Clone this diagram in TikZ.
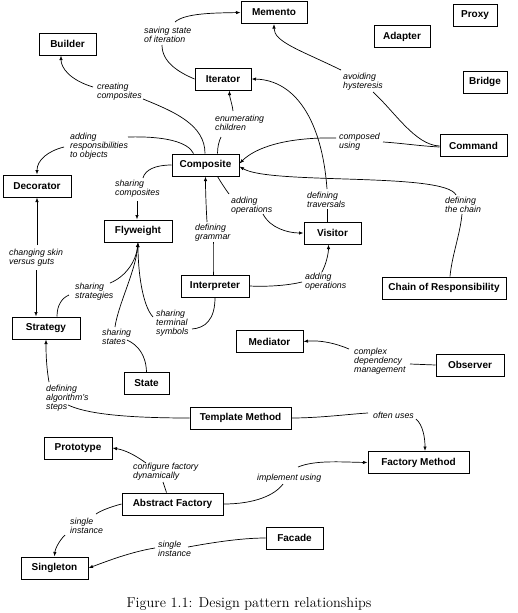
\documentclass[tikz,border=0pt]{standalone}
\usepackage{fontspec}
\setsansfont{Liberation Sans}
\usetikzlibrary{arrows.meta}
\begin{document}
\begin{tikzpicture}[x=1pt,y=-1pt,
  pat/.style={draw, line width=1pt, minimum height=22pt, inner sep=0pt, font=\sffamily\bfseries\fontsize{10}{12}\selectfont},
  lbl/.style={anchor=north west, inner sep=0pt, align=left, font=\sffamily\itshape\fontsize{8.8}{9}\selectfont},
  con/.style={line width=0.7pt},
  arr/.style={con, -{Latex[length=4.5pt,width=3.4pt]}}]
\useasboundingbox (0,0) rectangle (517,613);

% pattern boxes
\node[pat, minimum width=66pt] (Memento) at (274,12.5) {Memento};
\node[pat, minimum width=44pt] (Proxy) at (475,15.5) {Proxy};
\node[pat, minimum width=56pt] (Adapter) at (402,36.5) {Adapter};
\node[pat, minimum width=44pt] (Bridge) at (485,82) {Bridge};
\node[pat, minimum width=67pt] (Command) at (473.5,145.5) {Command};
\node[pat, minimum width=57pt] (Builder) at (67.5,44) {Builder};
\node[pat, minimum width=56pt] (Iterator) at (223,79) {Iterator};
\node[pat, minimum width=67pt] (Composite) at (205.5,165) {Composite};
\node[pat, minimum width=68pt] (Decorator) at (37,186) {Decorator};
\node[pat, minimum width=68pt] (Flyweight) at (138,231) {Flyweight};
\node[pat, minimum width=57pt] (Visitor) at (332.5,233) {Visitor};
\node[pat, minimum width=68pt] (Interpreter) at (215,286) {Interpreter};
\node[pat, minimum width=124pt] (CoR) at (444,288) {Chain of Responsibility};
\node[pat, minimum width=68pt] (Strategy) at (46,328) {Strategy};
\node[pat, minimum width=67pt] (Mediator) at (269.5,341.5) {Mediator};
\node[pat, minimum width=68pt] (Observer) at (470,365) {Observer};
\node[pat, minimum width=45pt] (State) at (146.5,383.5) {State};
\node[pat, minimum width=101pt] (TM) at (240.5,418) {Template Method};
\node[pat, minimum width=68pt] (Prototype) at (78,448) {Prototype};
\node[pat, minimum width=101pt] (FM) at (418.5,462.5) {Factory Method};
\node[pat, minimum width=101pt] (AF) at (172.5,504) {Abstract Factory};
\node[pat, minimum width=57pt] (Facade) at (294.5,538) {Facade};
\node[pat, minimum width=67pt] (Singleton) at (54.5,568) {Singleton};

% labels
\node[lbl] (satl) at (144,26.7) {saving state\\of iteration};
\node[lbl] (creat) at (97,83) {creating\\composites};
\node[lbl] (enum) at (215,115) {enumerating\\children};
\node[lbl] (addresp) at (70,133) {adding\\responsibilities\\to objects};
\node[lbl] (avoid) at (343,73) {avoiding\\hysteresis};
\node[lbl] (compused) at (339,133) {composed\\using};
\node[lbl] (sharcomp) at (115,180) {sharing\\composites};
\node[lbl] (addopa) at (231,197) {adding\\operations};
\node[lbl] (deftrav) at (307,192) {defining\\traversals};
\node[lbl] (defchain) at (445,197) {defining\\the chain};
\node[lbl] (skin) at (9,249) {changing skin\\versus guts};
\node[lbl] (defgram) at (195,224) {defining\\grammar};
\node[lbl] (addopb) at (305,273) {adding\\operations};
\node[lbl] (sharstrat) at (75,283) {sharing\\strategies};
\node[lbl] (sharterm) at (156,310) {sharing\\terminal\\symbols};
\node[lbl] (sharstate) at (102,329) {sharing\\states};
\node[lbl] (complex) at (354,348) {complex\\dependency\\management};
\node[lbl] (defalg) at (46,385) {defining\\algorithm's\\steps};
\node[lbl] (often) at (373,412) {often uses};
\node[lbl] (config) at (133,463) {configure factory\\dynamically};
\node[lbl] (impl) at (257,474) {implement using};
\node[lbl] (singa) at (70,518) {single\\instance};
\node[lbl] (singb) at (158,541) {single\\instance};

% label-side ends of connectors
\coordinate (cA1) at (162,45);   \coordinate (cA2) at (175,22);
\coordinate (cB1) at (143,99);   \coordinate (cB2) at (93,87);
\coordinate (cC1) at (221,137);  \coordinate (cC2) at (233,111);
\coordinate (cD1) at (128,137);  \coordinate (cD2) at (64,147);
\coordinate (cE1) at (373,92);   \coordinate (cE2) at (341,70);
\coordinate (cF1) at (383,142);  \coordinate (cF2) at (336,138);
\coordinate (cG1) at (462,214);  \coordinate (cG2) at (456,195);
\coordinate (cH1) at (327,209);  \coordinate (cH2) at (327,189);
\coordinate (cI1) at (229,194);  \coordinate (cI2) at (263,214);
\coordinate (cJ1) at (213,242);  \coordinate (cJ2) at (207,222);
\coordinate (cK1) at (302,282);  \coordinate (cK2) at (322,272);
\coordinate (cL1) at (37,245);   \coordinate (cL2) at (36,270);
\coordinate (cM1) at (69,295);   \coordinate (cM2) at (110,283);
\coordinate (cN1) at (127,340);  \coordinate (cN2) at (115,327);
\coordinate (cO1) at (192,329);  \coordinate (cO2) at (153,317);
\coordinate (cP1) at (410,364);  \coordinate (cP2) at (349,349);
\coordinate (cQ1) at (68,405);   \coordinate (cQ2) at (49,382);
\coordinate (cR1) at (368,413);  \coordinate (cR2) at (416,419);
\coordinate (cS1) at (163,482);  \coordinate (cS2) at (146,463);
\coordinate (cT1) at (283,484);  \coordinate (cT2) at (298,467);
\coordinate (cU1) at (96,514);   \coordinate (cU2) at (65,535);
\coordinate (cV1) at (188,547);  \coordinate (cV2) at (155,548);
\coordinate (cW1) at (143,178);  \coordinate (cW2) at (137,201);

% A Iterator -> Memento
\draw[con] (Iterator.west) .. controls (178,72) and (162,62) .. (cA1);
\draw[arr] (cA2) .. controls (185,13) and (215,13) .. (Memento.west);
% B Composite -> Builder
\draw[con] ([xshift=-0.5pt]Composite.north) .. controls (205,125) and (175,112) .. (cB1);
\draw[arr] (cB2) .. controls (70,80) and (61,68) .. ([xshift=-6.5pt]Builder.south);
% C Composite -> Iterator
\draw[con] ([xshift=12pt]Composite.north) .. controls (217.5,147) and (219,141) .. (cC1);
\draw[arr] (cC2) .. controls (232,103) and (229.5,97) .. ([xshift=6.5pt]Iterator.south);
% D Composite -> Decorator
\draw[con] ([xshift=-12pt]Composite.north) .. controls (188,142) and (165,136) .. (cD1);
\draw[arr] (cD2) .. controls (48,151) and (37,160) .. (Decorator.north);
% E Command -> Memento
\draw[con] (cE1) .. controls (395,112) and (415,145) .. ([yshift=-0.5pt]Command.west);
\draw[arr] (cE2) .. controls (300,50) and (274,42) .. (Memento.south);
% F Command -> Composite
\draw[con] (cF1) .. controls (400,143) and (420,146) .. ([yshift=-1.5pt]Command.west);
\draw[arr] (cF2) .. controls (285,137) and (255,148) .. ([yshift=1.5pt]Composite.east);
% G Chain of Responsibility -> Composite
\draw[con] ([xshift=6pt]CoR.north) .. controls (452,255) and (460,235) .. (cG1);
\draw[arr] (cG2) .. controls (445,172) and (270,185) .. ([yshift=-1.5pt]Composite.east);
% H Visitor -> Iterator
\draw[con] ([xshift=-5.5pt]Visitor.north) -- (cH1);
\draw[arr] (cH2) .. controls (322,120) and (295,80) .. (Iterator.east);
% I Composite -> Visitor
\draw[con] ([xshift=12pt]Composite.south) .. controls (222,184) and (226,190) .. (cI1);
\draw[arr] (cI2) .. controls (270,228) and (288,233) .. (Visitor.west);
% J Interpreter -> Composite
\draw[con] ([xshift=-2pt]Interpreter.north) .. controls (213,260) and (213,250) .. (cJ1);
\draw[arr] (cJ2) .. controls (206,205) and (205.5,190) .. (Composite.south);
% K Interpreter -> Visitor
\draw[con] (Interpreter.east) .. controls (270,287) and (290,285) .. (cK1);
\draw[arr] (cK2) .. controls (327,262) and (328.5,252) .. ([xshift=-4pt]Visitor.south);
% L Decorator <-> Strategy
\draw[arr] (cL1) -- (Decorator.south);
\draw[arr] (cL2) -- ([xshift=-10pt]Strategy.north);
% W Composite -> Flyweight
\draw[con] (Composite.west) .. controls (155,165) and (145,170) .. (cW1);
\draw[arr] (cW2) -- ([xshift=-1pt]Flyweight.north);
% M Strategy -> Flyweight
\draw[con] ([xshift=11pt]Strategy.north) .. controls (57,305) and (62,298) .. (cM1);
\draw[arr] (cM2) .. controls (125,277) and (136,262) .. (Flyweight.south);
% N State -> Flyweight
\draw[con] (State.north) .. controls (146,355) and (138,345) .. (cN1);
\draw[arr] (cN2) .. controls (118,305) and (136,270) .. (Flyweight.south);
% O Interpreter -> Flyweight
\draw[con] (Interpreter.south) .. controls (215,320) and (205,328) .. (cO1);
\draw[arr] (cO2) .. controls (142,305) and (138,270) .. (Flyweight.south);
% P Observer -> Mediator
\draw[con] (Observer.west) -- (cP1);
\draw[arr] (cP2) .. controls (335,343) and (320,340) .. (Mediator.east);
% Q Template Method -> Strategy
\draw[con] (TM.west) .. controls (120,418) and (85,413) .. (cQ1);
\draw[arr] (cQ2) .. controls (46,365) and (46,350) .. (Strategy.south);
% R Template Method -> Factory Method
\draw[con] (TM.east) .. controls (320,418) and (350,414) .. (cR1);
\draw[arr] (cR2) .. controls (423,425) and (425,438) .. ([xshift=6.5pt]FM.north);
% S Abstract Factory -> Prototype
\draw[con] ([xshift=-6pt]AF.north) -- (cS1);
\draw[arr] (cS2) .. controls (135,455) and (125,450) .. (Prototype.east);
% T Abstract Factory -> Factory Method
\draw[con] (AF.east) .. controls (255,504) and (275,495) .. (cT1);
\draw[arr] (cT2) .. controls (315,460) and (340,462) .. (FM.west);
% U Abstract Factory -> Singleton
\draw[con] (AF.west) .. controls (110,507) and (100,511) .. (cU1);
\draw[arr] (cU2) .. controls (58,542) and (55,550) .. (Singleton.north);
% V Facade -> Singleton
\draw[con] (Facade.west) .. controls (240,538) and (210,543) .. (cV1);
\draw[arr] (cV2) .. controls (130,552) and (105,562) .. (Singleton.east);

% caption
\node[anchor=base, inner sep=0pt, font=\fontsize{14.3}{17}\selectfont] (caption) at (249,607) {Figure 1.1: Design pattern relationships};
\end{tikzpicture}
\end{document}
